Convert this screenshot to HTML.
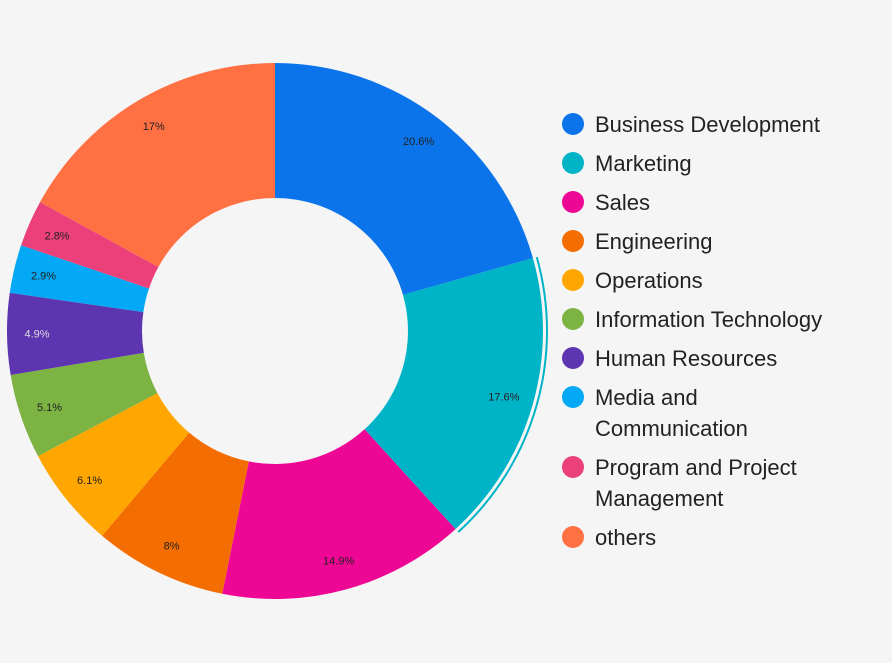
<!DOCTYPE html>
<html><head><meta charset="utf-8"><style>
body{margin:0;background:#f5f5f5;width:892px;height:658px;overflow:hidden;font-family:"Liberation Sans",sans-serif}
</style></head><body>
<svg width="892" height="658">
<g id="slices"></g><g id="labels"></g><g id="legend"></g>
</svg>
<script>
const categories=["Business Development","Marketing","Sales","Engineering","Operations","Information Technology","Human Resources","Media and Communication","Program and Project Management","others"];
const values=[20.6,17.6,14.9,8,6.1,5.1,4.9,2.9,2.8,17];
const valueLabels=["20.6%","17.6%","14.9%","8%","6.1%","5.1%","4.9%","2.9%","2.8%","17%"];
const colors=["#0b74ea","#00b4c8","#ee0695","#f46d00","#ffa600","#7cb342","#5e35b1","#03a9f4","#ec407a","#ff7043"];
const legendLines=[["Business Development"],["Marketing"],["Sales"],["Engineering"],["Operations"],["Information Technology"],["Human Resources"],["Media and","Communication"],["Program and Project","Management"],["others"]];
const NS="http://www.w3.org/2000/svg";
const cx=275,cy=331,R=268,r=133,LR=238;
const total=values.reduce((a,b)=>a+b,0);
function pt(rad,a){return [cx+rad*Math.sin(a),cy-rad*Math.cos(a)];}
function arc(a0,a1,ro,ri){const l=a1-a0>Math.PI?1:0;const p0=pt(ro,a0),p1=pt(ro,a1),p2=pt(ri,a1),p3=pt(ri,a0);
return `M${p0}A${ro},${ro} 0 ${l} 1 ${p1}L${p2}A${ri},${ri} 0 ${l} 0 ${p3}Z`;}
const gS=document.getElementById('slices'),gL=document.getElementById('labels'),gG=document.getElementById('legend');
let a=0;
values.forEach((v,i)=>{
 const a1=a+v/total*2*Math.PI;
 const p=document.createElementNS(NS,'path');
 p.setAttribute('d',arc(a,a1,R,r));p.setAttribute('fill',colors[i]);
 
 
 gS.appendChild(p);
 if(i===1){const h=document.createElementNS(NS,'path');
  h.setAttribute('d',arc(a,a1,R+5,R+3));h.setAttribute('fill',colors[i]);
  
  
  gS.appendChild(h);}
 const m=(a+a1)/2,q=pt(LR,m);
 const t=document.createElementNS(NS,'text');
 t.setAttribute('x',q[0]);t.setAttribute('y',q[1]+4);t.setAttribute('text-anchor','middle');
 t.setAttribute('font-size','11');t.setAttribute('fill',i===6?'#ddd':'#222');
 t.textContent=valueLabels[i];
 
 
 gL.appendChild(t);
 a=a1;
});
let y=124;
legendLines.forEach((lines,i)=>{
 const g=document.createElementNS(NS,'g');
 
 
 const c=document.createElementNS(NS,'circle');
 c.setAttribute('cx',573);c.setAttribute('cy',y);c.setAttribute('r',11);c.setAttribute('fill',colors[i]);
 g.appendChild(c);
 lines.forEach((ln,j)=>{const t=document.createElementNS(NS,'text');
  t.setAttribute('x',595);t.setAttribute('y',y+8+j*31);t.setAttribute('font-size','22');t.setAttribute('fill','#222');
  t.textContent=ln;g.appendChild(t);});
 gG.appendChild(g);
 y+=39+(lines.length-1)*31;
});
</script>
</body></html>
